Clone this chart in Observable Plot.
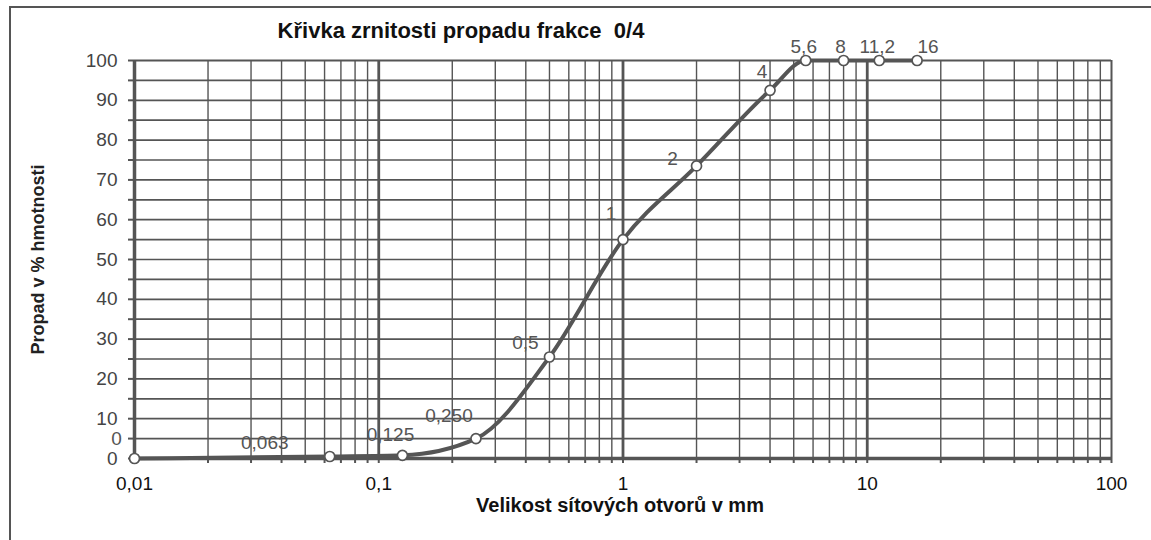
<!DOCTYPE html>
<html><head><meta charset="utf-8">
<script src="https://cdn.jsdelivr.net/npm/d3@7"></script>
<script src="https://cdn.jsdelivr.net/npm/@observablehq/plot@0.6"></script>
<style>
html,body{margin:0;padding:0;background:#fff;}
#wrap{position:relative;width:1151px;height:540px;overflow:hidden;background:#fff;}
#chart{position:absolute;left:0;top:0;}
#border{position:absolute;left:9px;top:6px;width:2000px;height:2000px;border-left:2px solid #555;border-top:2px solid #555;pointer-events:none;}
</style></head><body>
<div id="wrap"><div id="chart"></div><div id="border"></div></div>
<script>
// Data
const sieveSizes = [0.01, 0.063, 0.125, 0.25, 0.5, 1, 2, 4, 5.6, 8, 11.2, 16];
const passing = [0, 0.5, 0.8, 5, 25.5, 55, 73.5, 92.5, 100, 100, 100, 100];
const pointLabels = ["0", "0,063", "0,125", "0,250", "0,5", "1", "2", "4", "5,6", "8", "11,2", "16"];
const xTickValues = [0.01, 0.1, 1, 10, 100];
const xTickLabels = ["0,01", "0,1", "1", "10", "100"];
const yTickValues = [0, 10, 20, 30, 40, 50, 60, 70, 80, 90, 100];
const titleText = "Křivka zrnitosti propadu frakce  0/4";
const xLabelText = "Velikost sítových otvorů v mm";
const yLabelText = "Propad v % hmotnosti";

const rows = sieveSizes.map((s, i) => ({size: s, pass: passing[i], label: pointLabels[i]}));
const xTickRows = xTickValues.map((v, i) => ({v, label: xTickLabels[i]}));

const logTicks = d3.scaleLog().domain([0.01, 100]).ticks();
const minorX = logTicks.filter(v => !xTickValues.some(d => Math.abs(d - v) / d < 1e-9));
const yFives = d3.range(5, 100, 5);
const yAllTicks = d3.range(0, 101, 5);

const ink = "#555";
const labelShift = [[-18,-20],[-65,-14],[-12,-20],[-27,-23],[-24,-14],[-12,-26],[-24,-7],[-8,-18],[-2,-14],[-3,-14],[-2,-14],[11,-14]];

const labelMarks = rows.map((r, i) => Plot.text([r], {
  x: "size", y: "pass", text: "label",
  dx: labelShift[i][0], dy: labelShift[i][1],
  fill: ink, fontSize: 19
}));

const chart = Plot.plot({
  width: 1151,
  height: 540,
  marginLeft: 134,
  marginRight: 40,
  marginTop: 60,
  marginBottom: 82,
  style: {fontFamily: "'Liberation Sans', Arial, sans-serif", background: "white", overflow: "visible"},
  x: {type: "log", domain: [0.01, 100], axis: null},
  y: {domain: [0, 100], axis: null},
  marks: [
    Plot.ruleX(minorX, {stroke: ink, strokeWidth: 1.4}),
    Plot.ruleY(yFives, {stroke: ink, strokeWidth: 1.7}),
    Plot.ruleX(xTickValues.slice(1, 4), {stroke: ink, strokeWidth: 2.8}),
    Plot.ruleX([xTickValues[4]], {stroke: ink, strokeWidth: 2}),
    Plot.ruleY([yTickValues[10]], {stroke: ink, strokeWidth: 2}),
    Plot.ruleX([xTickValues[0]], {stroke: ink, strokeWidth: 3.5}),
    Plot.ruleY([yTickValues[0]], {stroke: ink, strokeWidth: 3.5}),
    Plot.axisY({ticks: yAllTicks, tickSize: 6, tickFormat: () => "", stroke: ink, strokeWidth: 2, label: null}),
    Plot.axisX({ticks: logTicks, tickSize: 5, tickFormat: () => "", stroke: ink, strokeWidth: 2, label: null}),
    Plot.text(yTickValues, {y: d => d, text: d => String(d), frameAnchor: "left", textAnchor: "end", lineAnchor: "middle", dx: -17, fontSize: 19, fill: "#444"}),
    Plot.text(xTickRows, {x: "v", text: "label", frameAnchor: "bottom", textAnchor: "middle", lineAnchor: "middle", dy: 25, fontSize: 19, fill: "#111"}),
    Plot.line(rows, {x: "size", y: "pass", curve: "monotone-x", stroke: ink, strokeWidth: 4}),
    Plot.dot(rows, {x: "size", y: "pass", r: 5, fill: "white", stroke: ink, strokeWidth: 1.7}),
    ...labelMarks,
    Plot.text([titleText], {frameAnchor: "top", textAnchor: "middle", lineAnchor: "middle", dx: -162, dy: -30, fontSize: 22, fontWeight: "bold", fill: "#111", text: d => d}),
    Plot.text([xLabelText], {frameAnchor: "bottom", textAnchor: "middle", lineAnchor: "middle", dx: -3, dy: 47, fontSize: 20, fontWeight: "bold", fill: "#111", text: d => d}),
    Plot.text([yLabelText], {frameAnchor: "left", textAnchor: "middle", lineAnchor: "middle", dx: -96, rotate: -90, fontSize: 18, fontWeight: "bold", fill: "#222", text: d => d})
  ]
});
document.getElementById("chart").appendChild(chart);
</script>
</body></html>
